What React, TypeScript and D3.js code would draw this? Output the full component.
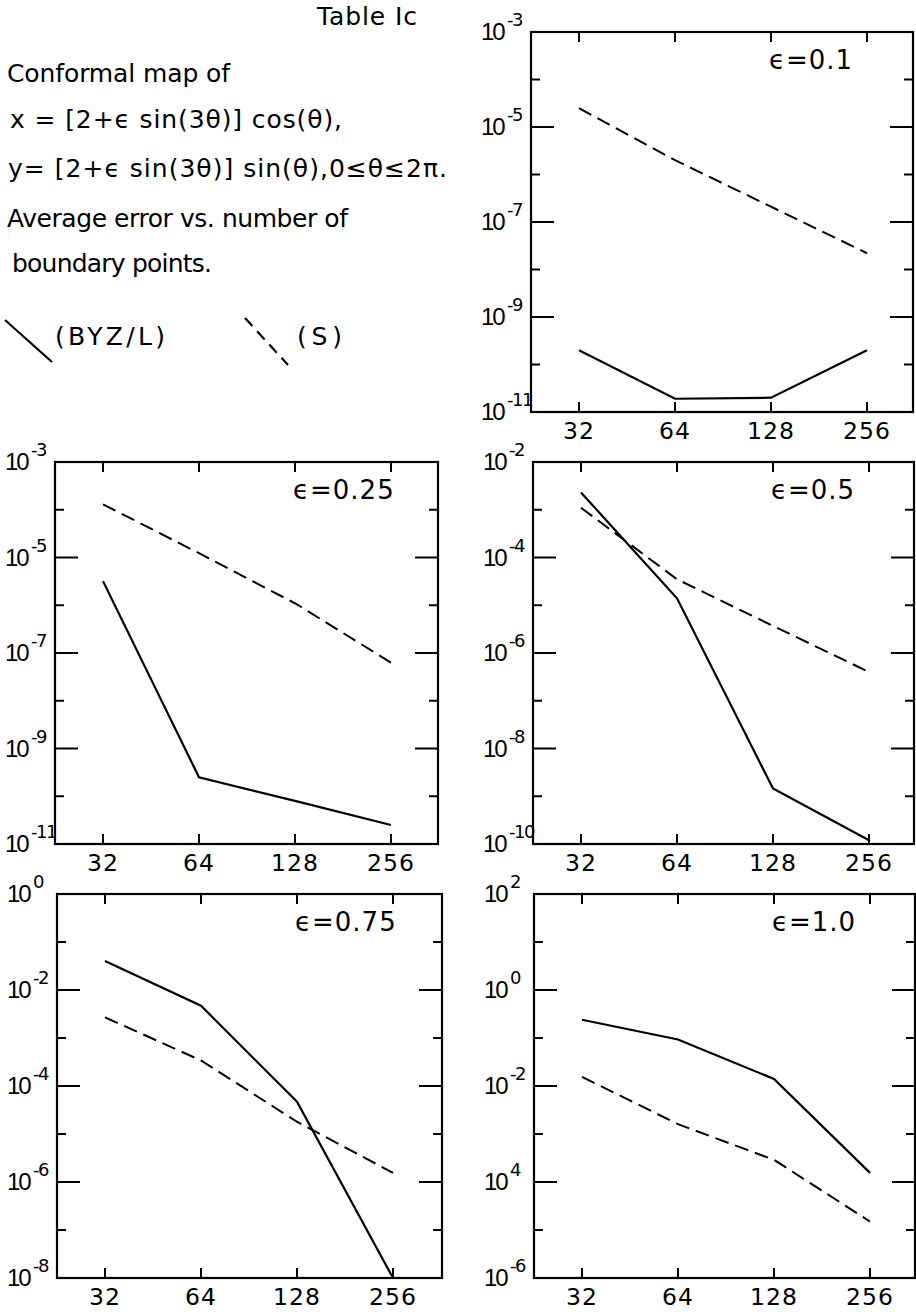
import React from "react";
import * as d3 from "d3";

// ---------- data ----------
const nPoints = [32, 64, 128, 256];
const xTickLabels = ["32", "64", "128", "256"];

const epsLabels = ["0.1", "0.25", "0.5", "0.75", "1.0"];

// average error, (BYZ/L) solid and (S) dashed
const byz01 = [2.0e-10, 1.9e-11, 2.0e-11, 2.0e-10];
const s01 = [2.5e-5, 2.0e-6, 2.1e-7, 2.2e-8];

const byz025 = [3.2e-6, 2.5e-10, 8.0e-11, 2.5e-11];
const s025 = [1.3e-4, 1.23e-5, 1.1e-6, 6.3e-8];

const byz05 = [2.3e-3, 1.4e-5, 1.45e-9, 1.2e-10];
const s05 = [1.1e-3, 3.5e-5, 3.7e-6, 4.0e-7];

const byz075 = [4.0e-2, 4.7e-3, 4.7e-5, 1.0e-8];
const s075 = [2.7e-3, 3.4e-4, 1.8e-5, 1.55e-6];

const byz10 = [2.4e-1, 9.3e-2, 1.4e-2, 1.55e-4];
const s10 = [1.55e-2, 1.6e-3, 2.9e-4, 1.5e-5];

// y-axis decade range (exponents) and printed tick exponents
const yTopExp = [-3, -3, -2, 0, 2];
const yBottomExp = [-11, -11, -10, -8, -6];
const yLabels01 = ["-3", "-5", "-7", "-9", "-11"];
const yLabels025 = ["-3", "-5", "-7", "-9", "-11"];
const yLabels05 = ["-2", "-4", "-6", "-8", "-10"];
const yLabels075 = ["0", "-2", "-4", "-6", "-8"];
const yLabels10 = ["2", "0", "-2", "4", "-6"];

const headerLines = [
  "Conformal map of",
  "x = [2+ϵ sin(3θ)] cos(θ),",
  "y= [2+ϵ sin(3θ)] sin(θ),0≤θ≤2π.",
  "Average error vs. number of",
  "boundary points.",
];

// ---------- layout ----------
const boxes = [
  { x: 531, y: 32, w: 382, h: 380 },
  { x: 55, y: 462, w: 383, h: 382 },
  { x: 533, y: 462, w: 381, h: 382 },
  { x: 57, y: 894, w: 385, h: 384 },
  { x: 534, y: 894, w: 381, h: 384 },
];

const FONT = "'DejaVu Sans', sans-serif";
const NUMFONT = "'Liberation Sans', Arial, sans-serif";

const panels = [
  { byz: byz01, s: s01, labels: yLabels01 },
  { byz: byz025, s: s025, labels: yLabels025 },
  { byz: byz05, s: s05, labels: yLabels05 },
  { byz: byz075, s: s075, labels: yLabels075 },
  { byz: byz10, s: s10, labels: yLabels10 },
].map((p, i) => ({
  ...p,
  eps: epsLabels[i],
  top: yTopExp[i],
  bottom: yBottomExp[i],
  box: boxes[i],
}));

function Panel({ p }: { p: (typeof panels)[number] }) {
  const { box } = p;
  const x = d3
    .scaleLog()
    .base(2)
    .domain([32, 256])
    .range([box.x + 48, box.x + 48 + 288]);
  const y = d3
    .scaleLog()
    .domain([Math.pow(10, p.top), Math.pow(10, p.bottom)])
    .range([box.y, box.y + box.h]);
  const line = d3
    .line<number>()
    .x((_, i) => x(nPoints[i]))
    .y((d) => y(d));
  const exps = d3.range(p.top, p.bottom - 1, -1);
  return (
    <g>
      {/* decade ticks */}
      {exps.map((e, k) => {
        const yy = y(Math.pow(10, e));
        const major = k % 2 === 0;
        const len = major ? 23 : 9;
        return (
          <g key={"t" + e}>
            <line x1={box.x} x2={box.x + len} y1={yy} y2={yy} stroke="#000" strokeWidth={2} />
            <line x1={box.x + box.w - len} x2={box.x + box.w} y1={yy} y2={yy} stroke="#000" strokeWidth={2} />
          </g>
        );
      })}
      {/* y labels */}
      {exps
        .filter((_, k) => k % 2 === 0)
        .map((e, k) => {
          const yy = y(Math.pow(10, e));
          return (
            <g key={"yl" + e}>
              <text
                x={box.x - 50}
                y={yy + 8}
                fontFamily={NUMFONT}
                fontSize={24}
                letterSpacing={-2}
                fill="#000"
              >
                10
              </text>
              <text
                x={box.x - 24}
                y={yy - 6}
                fontFamily={FONT}
                fontSize={18}
                letterSpacing={-1.5}
                fill="#000"
              >
                {p.labels[k]}
              </text>
            </g>
          );
        })}
      {/* x ticks */}
      {nPoints.map((n, i) => (
        <g key={"x" + n}>
          <line x1={x(n)} x2={x(n)} y1={box.y} y2={box.y + 10} stroke="#000" strokeWidth={2} />
          <line x1={x(n)} x2={x(n)} y1={box.y + box.h - 10} y2={box.y + box.h} stroke="#000" strokeWidth={2} />
          <text
            x={x(n)}
            y={box.y + box.h + 27}
            textAnchor="middle"
            fontFamily={FONT}
            fontSize={23.5}
            letterSpacing={1}
            fill="#000"
          >
            {xTickLabels[i]}
          </text>
        </g>
      ))}
      <rect x={box.x} y={box.y} width={box.w} height={box.h} fill="none" stroke="#000" strokeWidth={2.2} />
      {/* data */}
      <path d={line(p.s) || ""} fill="none" stroke="#000" strokeWidth={2} strokeDasharray="14 7" />
      <path d={line(p.byz) || ""} fill="none" stroke="#000" strokeWidth={2.2} />
      <text
        x={box.x + 238}
        y={box.y + 37}
        fontFamily={FONT}
        fontSize={26}
        letterSpacing={1}
        fill="#000"
      >
        ϵ=
        {p.eps}
      </text>
    </g>
  );
}

export default function App() {
  const headerX = [7, 10, 8, 7, 12];
  const headerY = [82, 128, 177, 227, 272];
  const headerLen = [223, 332, 439, 341, 200];
  return (
    <svg
      width={916}
      height={1312}
      style={{ position: "absolute", left: 0, top: 0, background: "#fff" }}
    >
      <rect x={0} y={0} width={916} height={1312} fill="#fff" />
      <text x={317} y={25} fontFamily={FONT} fontSize={25} textLength={100} lengthAdjust="spacing" fill="#000">
        Table Ic
      </text>
      {headerLines.map((t, i) => (
        <text
          key={i}
          x={headerX[i]}
          y={headerY[i]}
          fontFamily={FONT}
          fontSize={25}
          textLength={headerLen[i]}
          lengthAdjust="spacing"
          fill="#000"
        >
          {t}
        </text>
      ))}
      {/* legend */}
      <line x1={5} y1={320} x2={52} y2={362} stroke="#000" strokeWidth={2.2} />
      <text x={55} y={345} fontFamily={FONT} fontSize={25} textLength={110} lengthAdjust="spacing" fill="#000">
        (BYZ/L)
      </text>
      <line x1={245} y1={318} x2={288} y2={365} stroke="#000" strokeWidth={2.2} strokeDasharray="11 7" />
      <text x={297} y={345} fontFamily={FONT} fontSize={25} textLength={45} lengthAdjust="spacing" fill="#000">
        (S)
      </text>
      {panels.map((p, i) => (
        <Panel key={i} p={p} />
      ))}
    </svg>
  );
}
